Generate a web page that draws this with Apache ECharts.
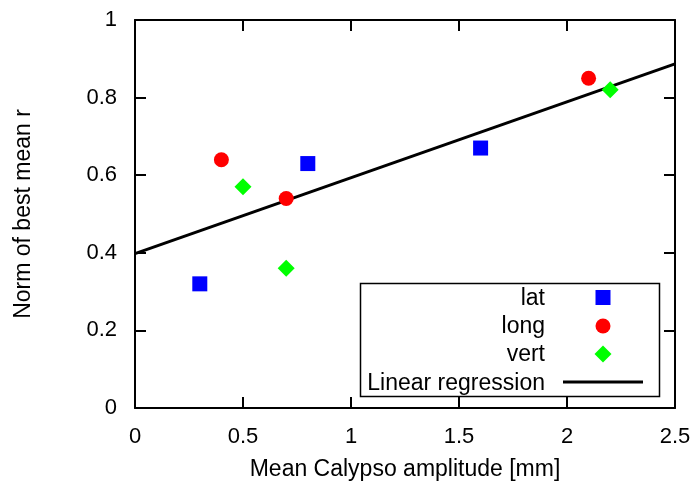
<!DOCTYPE html>
<html>
<head>
<meta charset="utf-8">
<script src="https://cdn.jsdelivr.net/npm/echarts@6/dist/echarts.min.js"></script>
<style>html,body{margin:0;padding:0;background:#fff}#c{width:700px;height:496px}</style>
</head>
<body>
<div id="c"></div>
<script>
// Calypso amplitude vs. norm of best mean r, per direction
var latX = [0.3, 0.8, 1.6];
var latY = [0.32, 0.63, 0.67];
var longX = [0.4, 0.7, 2.1];
var longY = [0.64, 0.54, 0.85];
var vertX = [0.5, 0.7, 2.2];
var vertY = [0.57, 0.36, 0.82];
var fitX = [0, 2.5];
var fitY = [0.398, 0.887];
var xTicks = [0, 0.5, 1, 1.5, 2, 2.5];
var yTicks = [0, 0.2, 0.4, 0.6, 0.8, 1];
var legendNames = ['lat', 'long', 'vert', 'Linear regression'];

function pairs(xs, ys) { return xs.map(function (x, i) { return [x, ys[i]]; }); }

var FONT = 'Liberation Sans';
var TICK_FS = 22, TITLE_FS = 23;
var chart = echarts.init(document.getElementById('c'));

function fmt(v) { return String(Math.round(v * 10) / 10); }

function axisBase(extra) {
  return Object.assign({
    type: 'value',
    axisLine: { show: true, onZero: false, lineStyle: { color: '#000', width: 2 } },
    axisTick: { show: true, inside: true, length: 11, lineStyle: { color: '#000', width: 2 } },
    splitLine: { show: false }
  }, extra);
}

var rowY = [299, 327, 355, 384];
var textX = 545, markX = 603;

chart.setOption({
  animation: false,
  backgroundColor: '#fff',
  grid: { left: 135, right: 25, top: 20, bottom: 88, show: false },
  xAxis: [
    axisBase({
      min: xTicks[0], max: xTicks[xTicks.length - 1], interval: 0.5, position: 'bottom',
      name: 'Mean Calypso amplitude [mm]', nameLocation: 'middle', nameGap: 50,
      nameTextStyle: { fontFamily: FONT, fontSize: TITLE_FS, color: '#000' },
      axisLabel: { fontFamily: FONT, fontSize: TICK_FS, color: '#000', margin: 18, formatter: fmt }
    }),
    axisBase({
      min: xTicks[0], max: xTicks[xTicks.length - 1], interval: 0.5, position: 'top',
      axisLabel: { show: false }
    })
  ],
  yAxis: [
    axisBase({
      min: yTicks[0], max: yTicks[yTicks.length - 1], interval: 0.2, position: 'left',
      name: 'Norm of best mean r', nameLocation: 'middle', nameGap: 100, nameRotate: 90,
      nameTextStyle: { fontFamily: FONT, fontSize: TITLE_FS, color: '#000' },
      axisLabel: { fontFamily: FONT, fontSize: TICK_FS, color: '#000', margin: 18, formatter: fmt }
    }),
    axisBase({
      min: yTicks[0], max: yTicks[yTicks.length - 1], interval: 0.2, position: 'right',
      axisLabel: { show: false }
    })
  ],
  series: [
    {
      name: legendNames[3], type: 'line', data: pairs(fitX, fitY), showSymbol: false,
      lineStyle: { color: '#000', width: 3 }, z: 3
    },
    {
      name: legendNames[0], type: 'scatter', data: pairs(latX, latY), symbol: 'rect', symbolSize: 15,
      itemStyle: { color: '#0000ff', opacity: 1 }, z: 4
    },
    {
      name: legendNames[1], type: 'scatter', data: pairs(longX, longY), symbol: 'circle', symbolSize: 15,
      itemStyle: { color: '#ff0000', opacity: 1 }, z: 4
    },
    {
      name: legendNames[2], type: 'scatter', data: pairs(vertX, vertY), symbol: 'diamond', symbolSize: [17, 17],
      itemStyle: { color: '#00ff00', opacity: 1 }, z: 4
    }
  ],
  graphic: [
    { type: 'rect', shape: { x: 360.5, y: 283.5, width: 299, height: 113 }, style: { fill: '#fff', stroke: '#000', lineWidth: 1.5 }, z: 10 },
    { type: 'text', x: textX, y: rowY[0], style: { text: legendNames[0], font: TITLE_FS + 'px ' + FONT, fill: '#000', textAlign: 'right', textVerticalAlign: 'middle' }, z: 11 },
    { type: 'text', x: textX, y: rowY[1], style: { text: legendNames[1], font: TITLE_FS + 'px ' + FONT, fill: '#000', textAlign: 'right', textVerticalAlign: 'middle' }, z: 11 },
    { type: 'text', x: textX, y: rowY[2], style: { text: legendNames[2], font: TITLE_FS + 'px ' + FONT, fill: '#000', textAlign: 'right', textVerticalAlign: 'middle' }, z: 11 },
    { type: 'text', x: textX, y: rowY[3], style: { text: legendNames[3], font: TITLE_FS + 'px ' + FONT, fill: '#000', textAlign: 'right', textVerticalAlign: 'middle' }, z: 11 },
    { type: 'rect', shape: { x: markX - 7.5, y: 290, width: 15, height: 15 }, style: { fill: '#0000ff' }, z: 11 },
    { type: 'circle', shape: { cx: markX, cy: 326, r: 7.5 }, style: { fill: '#ff0000' }, z: 11 },
    { type: 'polygon', shape: { points: [[markX, 354 - 8.5], [markX + 8.5, 354], [markX, 354 + 8.5], [markX - 8.5, 354]] }, style: { fill: '#00ff00' }, z: 11 },
    { type: 'line', shape: { x1: 563, y1: 382, x2: 643, y2: 382 }, style: { stroke: '#000', lineWidth: 3 }, z: 11 }
  ]
});
</script>
</body>
</html>
